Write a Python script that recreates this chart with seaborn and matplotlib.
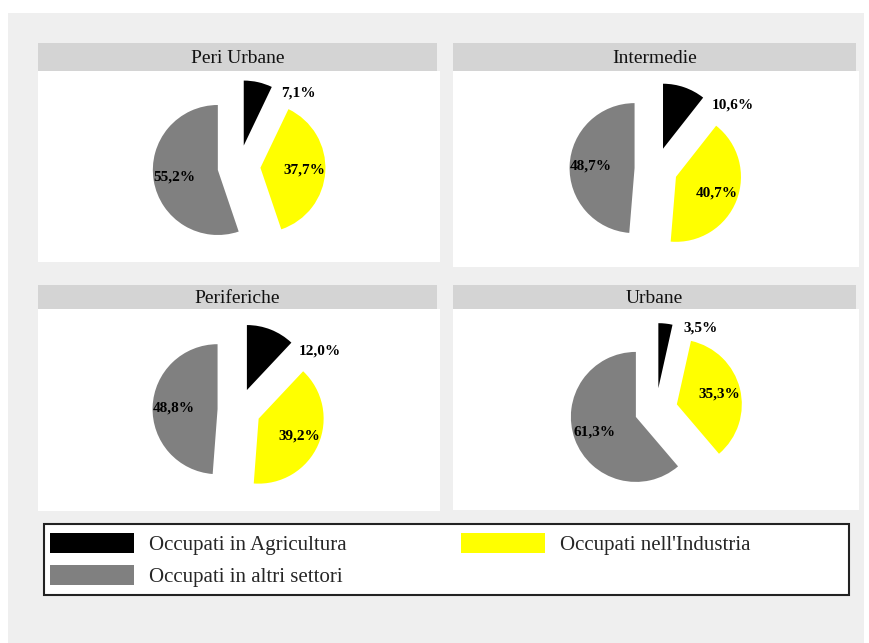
import matplotlib
matplotlib.use("Agg")
import numpy as np
import matplotlib.pyplot as plt
from matplotlib.patches import Patch, Rectangle
import seaborn as sns

# Occupational shares (%) by type of area
areas = ["Peri Urbane", "Intermedie", "Periferiche", "Urbane"]
agricoltura = [7.1, 10.6, 12.0, 3.5]
industria = [37.7, 40.7, 39.2, 35.3]
altri = [55.2, 48.7, 48.8, 61.3]
series_labels = ["Occupati in Agricultura", "Occupati nell'Industria",
                 "Occupati in altri settori"]

sns.set_theme(style="white")
plt.rcParams["font.family"] = ["Liberation Serif", "DejaVu Serif"]
colors = sns.color_palette(["#000000", "#ffff00", "#808080"])

W, H = 870, 643
fig = plt.figure(figsize=(W / 100, H / 100), dpi=100, facecolor="white")

def frac_rect(x0, y0, x1, y1):
    return [x0 / W, 1 - y1 / H, (x1 - x0) / W, (y1 - y0) / H]

# light grey chart area behind everything
fig.patches.append(Rectangle((8 / W, 0), (864 - 8) / W, 1 - 13 / H,
                             transform=fig.transFigure, facecolor="#efefef",
                             edgecolor="none", zorder=-10))

# panel geometry in pixels: title bar (x0, x1, top, bottom), body bottom
panels = [
    (38, 437, 43, 71, 262),
    (453, 856, 43, 71, 267),
    (38, 437, 285, 309, 511),
    (453, 856, 285, 309, 510),
]
R = 65.0  # pixels per pie radius

def fmt(v):
    return f"{v:.1f}%".replace(".", ",")

for i, (x0, x1, t0, t1, b) in enumerate(panels):
    tax = fig.add_axes(frac_rect(x0, t0, x1, t1))
    tax.set_facecolor("#d4d4d4")
    tax.set_xticks([]); tax.set_yticks([])
    for s in tax.spines.values():
        s.set_visible(False)
    tax.text(0.5, 0.45, areas[i], ha="center", va="center", fontsize=14,
             transform=tax.transAxes, color="#111111")

    ax = fig.add_axes(frac_rect(x0, t1, x1 + 3, b))
    vals = [agricoltura[i], industria[i], altri[i]]
    wedges, _ = ax.pie(vals, colors=colors, startangle=90, counterclock=False,
                       explode=[0.33] * 3, radius=1.0,
                       wedgeprops=dict(linewidth=0))
    hw = (x1 + 3 - x0) / R / 2
    hh = (b - t1) / R / 2
    ax.set_xlim(-hw, hw)
    ax.set_ylim(-hh, hh)
    ax.set_aspect("auto")
    ax.set_frame_on(True)
    ax.set_facecolor("white")
    for s in ax.spines.values():
        s.set_visible(False)

    for w, v in zip(wedges, vals):
        cx, cy = w.center
        if v < 15:
            # small slice: value written just outside its clockwise end
            ang = np.deg2rad(w.theta1 - 10)
            ax.text(cx + 1.0 * np.cos(ang), cy + 1.0 * np.sin(ang), fmt(v),
                    ha="left", va="center", fontsize=11, fontweight="bold",
                    color="black")
        else:
            ang = np.deg2rad((w.theta1 + w.theta2) / 2)
            ax.text(cx + 0.68 * np.cos(ang), cy + 0.68 * np.sin(ang), fmt(v),
                    ha="center", va="center", fontsize=11, fontweight="bold",
                    color="black")

# legend box
fig.patches.append(Rectangle((44 / W, 1 - 595 / H), (849 - 44) / W, 71 / H,
                             transform=fig.transFigure, facecolor="white",
                             edgecolor="#222222", linewidth=1.5, zorder=1))
handles = [Patch(facecolor=colors[0], edgecolor="none"),
           Patch(facecolor=colors[2], edgecolor="none"),
           Patch(facecolor=colors[1], edgecolor="none")]
labels = [series_labels[0], series_labels[2], series_labels[1]]
leg = fig.legend(handles, labels, ncol=2, loc="upper left",
                 bbox_to_anchor=(46 / W, 1 - 529 / H),
                 frameon=False, fontsize=15, handlelength=4.0,
                 handleheight=1.1, handletextpad=0.75, labelspacing=0.45,
                 columnspacing=5.5, borderpad=0.2, borderaxespad=0.0)
leg.set_zorder(2)

fig.savefig("out.png", dpi=100, facecolor=fig.get_facecolor())
